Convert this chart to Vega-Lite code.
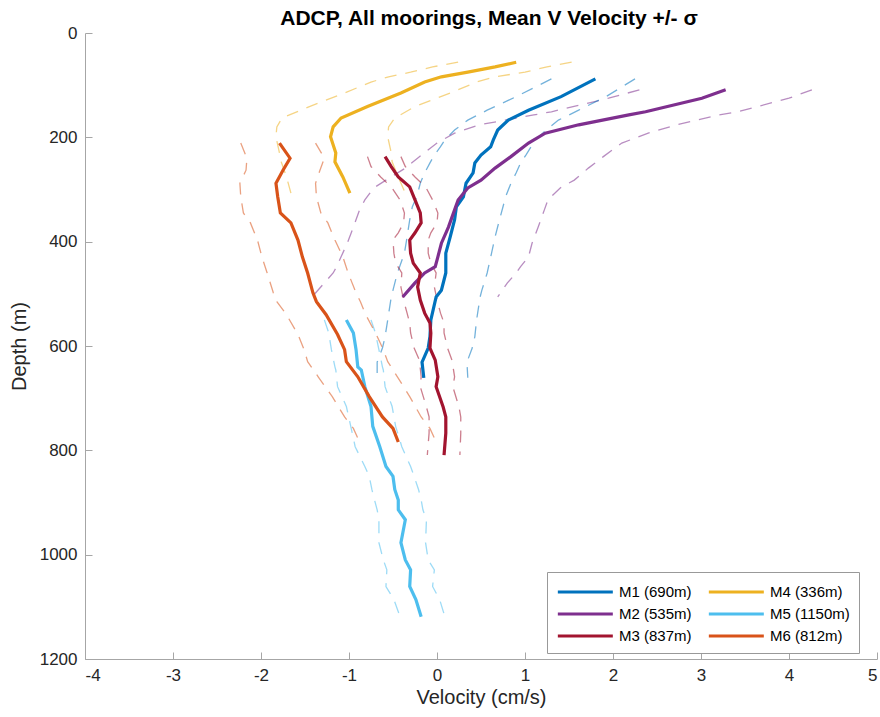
{
  "$schema": "https://vega.github.io/schema/vega-lite/v6.json",
  "width": 792,
  "height": 626,
  "autosize": {"type": "none"},
  "padding": {"left": 85, "top": 33, "right": 3, "bottom": 58},
  "background": "white",
  "title": {
    "text": "ADCP, All moorings, Mean V Velocity +/- σ",
    "font": "Liberation Sans",
    "fontSize": 21,
    "fontWeight": "bold",
    "color": "#000000",
    "anchor": "middle",
    "offset": -5,
    "dx": 8
  },
  "config": {
    "view": {"stroke": null},
    "axis": {
      "grid": false,
      "domainColor": "#a6a6a6",
      "domainWidth": 1,
      "tickColor": "#a6a6a6",
      "labelFont": "Liberation Sans",
      "labelFontSize": 17,
      "labelColor": "#262626",
      "titleFont": "Liberation Sans",
      "titleFontSize": 20,
      "titleFontWeight": "normal",
      "titleColor": "#262626"
    }
  },
  "data": {
    "values": [
      {"m": "M1 (690m)", "d": 88, "v": 1.80, "lo": 1.30, "hi": 2.25},
      {"m": "M1 (690m)", "d": 122, "v": 1.41, "lo": 0.90, "hi": 1.92},
      {"m": "M1 (690m)", "d": 148, "v": 1.04, "lo": 0.57, "hi": 1.61},
      {"m": "M1 (690m)", "d": 167, "v": 0.81, "lo": 0.35, "hi": 1.38},
      {"m": "M1 (690m)", "d": 186, "v": 0.69, "lo": 0.20, "hi": 1.24},
      {"m": "M1 (690m)", "d": 205, "v": 0.64, "lo": 0.09, "hi": 1.12},
      {"m": "M1 (690m)", "d": 218, "v": 0.61, "lo": 0.04, "hi": 1.07},
      {"m": "M1 (690m)", "d": 234, "v": 0.50, "lo": -0.03, "hi": 1.01},
      {"m": "M1 (690m)", "d": 249, "v": 0.43, "lo": -0.08, "hi": 0.95},
      {"m": "M1 (690m)", "d": 268, "v": 0.41, "lo": -0.14, "hi": 0.90},
      {"m": "M1 (690m)", "d": 288, "v": 0.33, "lo": -0.19, "hi": 0.84},
      {"m": "M1 (690m)", "d": 314, "v": 0.30, "lo": -0.23, "hi": 0.78},
      {"m": "M1 (690m)", "d": 333, "v": 0.22, "lo": -0.28, "hi": 0.75},
      {"m": "M1 (690m)", "d": 358, "v": 0.20, "lo": -0.31, "hi": 0.71},
      {"m": "M1 (690m)", "d": 391, "v": 0.15, "lo": -0.34, "hi": 0.66},
      {"m": "M1 (690m)", "d": 422, "v": 0.10, "lo": -0.37, "hi": 0.62},
      {"m": "M1 (690m)", "d": 460, "v": 0.10, "lo": -0.45, "hi": 0.57},
      {"m": "M1 (690m)", "d": 493, "v": 0.05, "lo": -0.50, "hi": 0.51},
      {"m": "M1 (690m)", "d": 506, "v": -0.01, "lo": -0.52, "hi": 0.49},
      {"m": "M1 (690m)", "d": 550, "v": -0.07, "lo": -0.56, "hi": 0.45},
      {"m": "M1 (690m)", "d": 582, "v": -0.08, "lo": -0.59, "hi": 0.43},
      {"m": "M1 (690m)", "d": 604, "v": -0.10, "lo": -0.62, "hi": 0.40},
      {"m": "M1 (690m)", "d": 631, "v": -0.17, "lo": -0.68, "hi": 0.34},
      {"m": "M1 (690m)", "d": 661, "v": -0.15, "lo": -0.68, "hi": 0.35},

      {"m": "M2 (535m)", "d": 109, "v": 3.28, "lo": 2.30, "hi": 4.26},
      {"m": "M2 (535m)", "d": 125, "v": 3.01, "lo": 1.95, "hi": 4.00},
      {"m": "M2 (535m)", "d": 151, "v": 2.37, "lo": 1.30, "hi": 3.42},
      {"m": "M2 (535m)", "d": 157, "v": 2.18, "lo": 1.10, "hi": 3.20},
      {"m": "M2 (535m)", "d": 176, "v": 1.61, "lo": 0.48, "hi": 2.72},
      {"m": "M2 (535m)", "d": 192, "v": 1.23, "lo": 0.20, "hi": 2.40},
      {"m": "M2 (535m)", "d": 211, "v": 1.04, "lo": 0.00, "hi": 2.10},
      {"m": "M2 (535m)", "d": 237, "v": 0.84, "lo": -0.20, "hi": 1.89},
      {"m": "M2 (535m)", "d": 259, "v": 0.66, "lo": -0.36, "hi": 1.72},
      {"m": "M2 (535m)", "d": 282, "v": 0.50, "lo": -0.58, "hi": 1.56},
      {"m": "M2 (535m)", "d": 297, "v": 0.35, "lo": -0.72, "hi": 1.40},
      {"m": "M2 (535m)", "d": 320, "v": 0.24, "lo": -0.82, "hi": 1.26},
      {"m": "M2 (535m)", "d": 339, "v": 0.20, "lo": -0.88, "hi": 1.22},
      {"m": "M2 (535m)", "d": 372, "v": 0.13, "lo": -0.95, "hi": 1.15},
      {"m": "M2 (535m)", "d": 403, "v": 0.05, "lo": -1.02, "hi": 1.08},
      {"m": "M2 (535m)", "d": 429, "v": 0.01, "lo": -1.09, "hi": 1.04},
      {"m": "M2 (535m)", "d": 448, "v": -0.02, "lo": -1.14, "hi": 0.95},
      {"m": "M2 (535m)", "d": 460, "v": -0.14, "lo": -1.18, "hi": 0.90},
      {"m": "M2 (535m)", "d": 479, "v": -0.25, "lo": -1.28, "hi": 0.80},
      {"m": "M2 (535m)", "d": 506, "v": -0.39, "lo": -1.42, "hi": 0.69},

      {"m": "M3 (837m)", "d": 237, "v": -0.59, "lo": -0.79, "hi": -0.41},
      {"m": "M3 (837m)", "d": 256, "v": -0.52, "lo": -0.75, "hi": -0.36},
      {"m": "M3 (837m)", "d": 276, "v": -0.44, "lo": -0.64, "hi": -0.25},
      {"m": "M3 (837m)", "d": 295, "v": -0.31, "lo": -0.52, "hi": -0.13},
      {"m": "M3 (837m)", "d": 320, "v": -0.25, "lo": -0.42, "hi": -0.05},
      {"m": "M3 (837m)", "d": 345, "v": -0.19, "lo": -0.37, "hi": 0.01},
      {"m": "M3 (837m)", "d": 364, "v": -0.18, "lo": -0.38, "hi": 0.00},
      {"m": "M3 (837m)", "d": 383, "v": -0.25, "lo": -0.44, "hi": -0.07},
      {"m": "M3 (837m)", "d": 397, "v": -0.31, "lo": -0.50, "hi": -0.10},
      {"m": "M3 (837m)", "d": 422, "v": -0.30, "lo": -0.49, "hi": -0.10},
      {"m": "M3 (837m)", "d": 441, "v": -0.27, "lo": -0.47, "hi": -0.07},
      {"m": "M3 (837m)", "d": 460, "v": -0.19, "lo": -0.40, "hi": -0.01},
      {"m": "M3 (837m)", "d": 487, "v": -0.22, "lo": -0.41, "hi": -0.03},
      {"m": "M3 (837m)", "d": 512, "v": -0.19, "lo": -0.38, "hi": 0.00},
      {"m": "M3 (837m)", "d": 537, "v": -0.14, "lo": -0.34, "hi": 0.04},
      {"m": "M3 (837m)", "d": 556, "v": -0.08, "lo": -0.31, "hi": 0.08},
      {"m": "M3 (837m)", "d": 575, "v": -0.07, "lo": -0.30, "hi": 0.08},
      {"m": "M3 (837m)", "d": 604, "v": -0.08, "lo": -0.26, "hi": 0.12},
      {"m": "M3 (837m)", "d": 627, "v": -0.02, "lo": -0.20, "hi": 0.17},
      {"m": "M3 (837m)", "d": 659, "v": 0.01, "lo": -0.18, "hi": 0.20},
      {"m": "M3 (837m)", "d": 678, "v": -0.01, "lo": -0.19, "hi": 0.18},
      {"m": "M3 (837m)", "d": 717, "v": 0.07, "lo": -0.12, "hi": 0.25},
      {"m": "M3 (837m)", "d": 736, "v": 0.10, "lo": -0.09, "hi": 0.27},
      {"m": "M3 (837m)", "d": 767, "v": 0.10, "lo": -0.09, "hi": 0.27},
      {"m": "M3 (837m)", "d": 809, "v": 0.08, "lo": -0.11, "hi": 0.26},

      {"m": "M4 (336m)", "d": 56, "v": 0.90, "lo": 0.24, "hi": 1.53},
      {"m": "M4 (336m)", "d": 65, "v": 0.66, "lo": -0.05, "hi": 1.25},
      {"m": "M4 (336m)", "d": 75, "v": 0.35, "lo": -0.30, "hi": 1.00},
      {"m": "M4 (336m)", "d": 84, "v": 0.05, "lo": -0.55, "hi": 0.66},
      {"m": "M4 (336m)", "d": 94, "v": -0.14, "lo": -0.75, "hi": 0.45},
      {"m": "M4 (336m)", "d": 115, "v": -0.41, "lo": -1.05, "hi": 0.15},
      {"m": "M4 (336m)", "d": 141, "v": -0.79, "lo": -1.45, "hi": -0.25},
      {"m": "M4 (336m)", "d": 163, "v": -1.09, "lo": -1.76, "hi": -0.48},
      {"m": "M4 (336m)", "d": 180, "v": -1.18, "lo": -1.82, "hi": -0.55},
      {"m": "M4 (336m)", "d": 199, "v": -1.21, "lo": -1.83, "hi": -0.56},
      {"m": "M4 (336m)", "d": 230, "v": -1.15, "lo": -1.79, "hi": -0.52},
      {"m": "M4 (336m)", "d": 247, "v": -1.16, "lo": -1.77, "hi": -0.51},
      {"m": "M4 (336m)", "d": 276, "v": -1.07, "lo": -1.71, "hi": -0.44},
      {"m": "M4 (336m)", "d": 307, "v": -0.99, "lo": -1.66, "hi": -0.36},

      {"m": "M5 (1150m)", "d": 550, "v": -1.03, "lo": -1.28, "hi": -0.75},
      {"m": "M5 (1150m)", "d": 575, "v": -0.95, "lo": -1.23, "hi": -0.70},
      {"m": "M5 (1150m)", "d": 607, "v": -0.92, "lo": -1.20, "hi": -0.66},
      {"m": "M5 (1150m)", "d": 640, "v": -0.90, "lo": -1.16, "hi": -0.62},
      {"m": "M5 (1150m)", "d": 646, "v": -0.86, "lo": -1.15, "hi": -0.61},
      {"m": "M5 (1150m)", "d": 678, "v": -0.82, "lo": -1.13, "hi": -0.59},
      {"m": "M5 (1150m)", "d": 716, "v": -0.75, "lo": -1.03, "hi": -0.51},
      {"m": "M5 (1150m)", "d": 754, "v": -0.73, "lo": -0.98, "hi": -0.47},
      {"m": "M5 (1150m)", "d": 793, "v": -0.65, "lo": -0.93, "hi": -0.40},
      {"m": "M5 (1150m)", "d": 831, "v": -0.58, "lo": -0.82, "hi": -0.30},
      {"m": "M5 (1150m)", "d": 850, "v": -0.50, "lo": -0.77, "hi": -0.26},
      {"m": "M5 (1150m)", "d": 875, "v": -0.48, "lo": -0.74, "hi": -0.21},
      {"m": "M5 (1150m)", "d": 895, "v": -0.44, "lo": -0.71, "hi": -0.18},
      {"m": "M5 (1150m)", "d": 914, "v": -0.44, "lo": -0.68, "hi": -0.16},
      {"m": "M5 (1150m)", "d": 933, "v": -0.36, "lo": -0.66, "hi": -0.12},
      {"m": "M5 (1150m)", "d": 977, "v": -0.41, "lo": -0.66, "hi": -0.13},
      {"m": "M5 (1150m)", "d": 1010, "v": -0.36, "lo": -0.61, "hi": -0.10},
      {"m": "M5 (1150m)", "d": 1029, "v": -0.30, "lo": -0.57, "hi": -0.03},
      {"m": "M5 (1150m)", "d": 1061, "v": -0.31, "lo": -0.58, "hi": -0.05},
      {"m": "M5 (1150m)", "d": 1086, "v": -0.24, "lo": -0.49, "hi": 0.03},
      {"m": "M5 (1150m)", "d": 1119, "v": -0.18, "lo": -0.42, "hi": 0.09},

      {"m": "M6 (812m)", "d": 211, "v": -1.79, "lo": -2.23, "hi": -1.38},
      {"m": "M6 (812m)", "d": 240, "v": -1.67, "lo": -2.16, "hi": -1.28},
      {"m": "M6 (812m)", "d": 263, "v": -1.75, "lo": -2.17, "hi": -1.33},
      {"m": "M6 (812m)", "d": 288, "v": -1.83, "lo": -2.24, "hi": -1.38},
      {"m": "M6 (812m)", "d": 314, "v": -1.81, "lo": -2.23, "hi": -1.37},
      {"m": "M6 (812m)", "d": 345, "v": -1.78, "lo": -2.20, "hi": -1.32},
      {"m": "M6 (812m)", "d": 364, "v": -1.66, "lo": -2.12, "hi": -1.24},
      {"m": "M6 (812m)", "d": 397, "v": -1.58, "lo": -2.04, "hi": -1.16},
      {"m": "M6 (812m)", "d": 429, "v": -1.53, "lo": -1.99, "hi": -1.07},
      {"m": "M6 (812m)", "d": 460, "v": -1.47, "lo": -1.93, "hi": -1.01},
      {"m": "M6 (812m)", "d": 498, "v": -1.41, "lo": -1.86, "hi": -0.92},
      {"m": "M6 (812m)", "d": 515, "v": -1.37, "lo": -1.82, "hi": -0.87},
      {"m": "M6 (812m)", "d": 540, "v": -1.26, "lo": -1.71, "hi": -0.81},
      {"m": "M6 (812m)", "d": 578, "v": -1.13, "lo": -1.58, "hi": -0.69},
      {"m": "M6 (812m)", "d": 607, "v": -1.05, "lo": -1.51, "hi": -0.61},
      {"m": "M6 (812m)", "d": 630, "v": -1.03, "lo": -1.47, "hi": -0.56},
      {"m": "M6 (812m)", "d": 659, "v": -0.90, "lo": -1.35, "hi": -0.45},
      {"m": "M6 (812m)", "d": 697, "v": -0.77, "lo": -1.19, "hi": -0.31},
      {"m": "M6 (812m)", "d": 736, "v": -0.62, "lo": -1.05, "hi": -0.18},
      {"m": "M6 (812m)", "d": 758, "v": -0.50, "lo": -0.95, "hi": -0.08},
      {"m": "M6 (812m)", "d": 784, "v": -0.44, "lo": -0.88, "hi": -0.01}
    ]
  },
  "encoding": {
    "y": {
      "field": "d",
      "type": "quantitative",
      "title": "Depth (m)",
      "scale": {"domain": [0, 1200], "reverse": true, "nice": false, "zero": false},
      "axis": {
        "values": [0, 200, 400, 600, 800, 1000, 1200],
        "labelExpr": "datum.value + ''",
        "tickSize": -7,
        "labelPadding": 15,
        "titlePadding": 10
      }
    },
    "order": {"field": "d", "type": "quantitative"},
    "color": {
      "field": "m",
      "type": "nominal",
      "scale": {
        "domain": ["M1 (690m)", "M2 (535m)", "M3 (837m)", "M4 (336m)", "M5 (1150m)", "M6 (812m)"],
        "range": ["#0072BD", "#7E2F8E", "#A2142F", "#EDB120", "#4DBEEE", "#D95319"]
      },
      "legend": {
        "title": null,
        "orient": "none",
        "legendX": 462,
        "legendY": 539,
        "columns": 2,
        "symbolType": "M-1,0L5,0",
        "symbolSize": 336,
        "symbolStrokeWidth": 3,
        "symbolOpacity": 1,
        "symbolDash": [],
        "labelFont": "Liberation Sans",
        "labelFontSize": 15,
        "labelColor": "#000000",
        "labelOffset": 41,
        "columnPadding": 10,
        "rowPadding": 3,
        "padding": 9,
        "strokeColor": "#999999",
        "fillColor": "white"
      }
    }
  },
  "layer": [
    {
      "mark": {"type": "line", "strokeWidth": 1.3, "strokeDash": [12, 9], "opacity": 0.55},
      "encoding": {
        "x": {
          "field": "lo",
          "type": "quantitative",
          "title": "Velocity (cm/s)",
          "scale": {"domain": [-4, 5], "nice": false, "zero": false},
          "axis": {
            "values": [-4, -3, -2, -1, 0, 1, 2, 3, 4, 5],
            "labelExpr": "datum.value + ''",
            "tickSize": -7,
            "labelPadding": 15,
            "titlePadding": 4
          }
        }
      }
    },
    {
      "mark": {"type": "line", "strokeWidth": 1.3, "strokeDash": [12, 9], "opacity": 0.55},
      "encoding": {"x": {"field": "hi", "type": "quantitative"}}
    },
    {
      "mark": {"type": "line", "strokeWidth": 3.2},
      "encoding": {"x": {"field": "v", "type": "quantitative"}}
    }
  ]
}
